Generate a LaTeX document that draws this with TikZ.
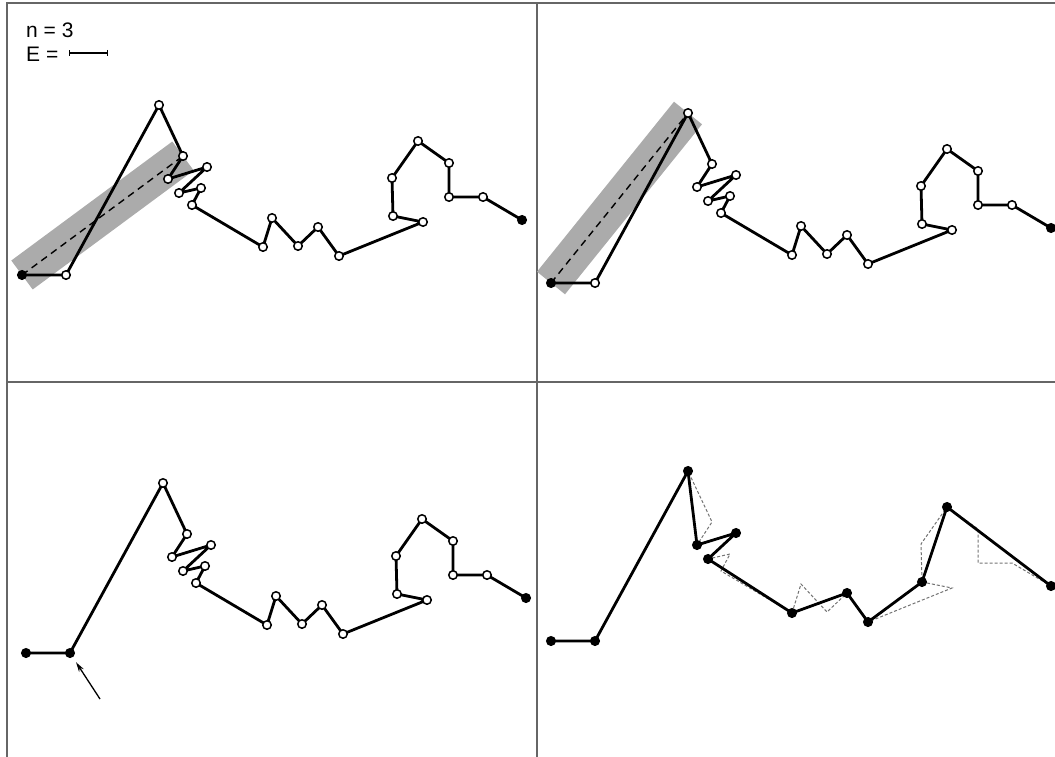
\documentclass[tikz,border=0pt]{standalone}
\usepackage{fontspec}
\setmainfont{Liberation Sans}
\usetikzlibrary{arrows.meta}

\tikzset{
  vtx/.style={draw,circle,fill=white,line width=1.5pt,inner sep=0pt,minimum size=8.5pt},
  endvtx/.style={vtx,fill=black},
  chain/.style={line width=2.8pt,line join=round},
  band/.style={draw=black!33,line width=36pt},
  guide/.style={dashed,dash pattern=on 7pt off 5pt,line width=1.4pt},
  old/.style={draw=black!55,dashed,dash pattern=on 3pt off 2pt,line width=1pt},
  frame/.style={draw=black!60,line width=2.4pt},
  pointer/.style={-{Stealth[length=10pt,width=5.5pt]},line width=1.3pt}
}

% the walk, in the frame of the first panel
\newcommand\walkpts[1]{%
  \foreach \px/\py [count=\k from 0] in {22/275,66/275,159/105,183/156,168/179,207/167,
      179/193,201/188,192/205,263/247,272/218,298/246,318/227,339/256,423/222,
      393/216,392/178,418/141,449/163,449/197,483/197,522/220}
    {\coordinate (#1\k) at (\px,\py);}}

\begin{document}
\begin{tikzpicture}[x=1pt, y=-1pt, font=\fontsize{21}{25}\selectfont]
  \useasboundingbox (0,0) rectangle (1055,757);

  % Frame
  \draw[frame] (7,757) -- (7,3) -- (1055,3);
  \draw[frame] (537,3) -- (537,757);
  \draw[frame] (7,382) -- (1055,382);

  % Legend
  \node[anchor=base west,inner sep=0pt] (ntext) at (26,38) {n = 3};
  \node[anchor=base west,inner sep=0pt] (etext) at (26,62) {E =};
  \coordinate (bar1) at (69,53);
  \coordinate (bar2) at (108,53);
  \draw[{Bar[width=6pt]}-{Bar[width=6pt]},line width=1.3pt] (bar1) -- (bar2);

  % Panel 1
  \begin{scope}
    \walkpts{a}
    \draw[band] (a0) -- (a3);
    \draw[guide] (a0) -- (a3);
    \draw[chain] (a0) \foreach \k in {1,...,21}{ -- (a\k)};
    \foreach \k in {1,...,20} \node[vtx] (va\k) at (a\k) {};
    \node[endvtx] (va0) at (a0) {};
    \node[endvtx] (va21) at (a21) {};
  \end{scope}

  % Panel 2
  \begin{scope}[shift={(529,8)}]
    \walkpts{b}
    \draw[band] (b0) -- (b2);
    \draw[guide] (b0) -- (b2);
    \draw[chain] (b0) \foreach \k in {1,...,21}{ -- (b\k)};
    \foreach \k in {1,...,20} \node[vtx] (vb\k) at (b\k) {};
    \node[endvtx] (vb0) at (b0) {};
    \node[endvtx] (vb21) at (b21) {};
  \end{scope}

  % Panel 3
  \begin{scope}[shift={(4,378)}]
    \walkpts{c}
    \draw[chain] (c0) \foreach \k in {1,...,21}{ -- (c\k)};
    \foreach \k in {2,...,20} \node[vtx] (vc\k) at (c\k) {};
    \node[endvtx] (vc0) at (c0) {};
    \node[endvtx] (vc1) at (c1) {};
    \node[endvtx] (vc21) at (c21) {};
    \coordinate (tail) at (96,321);
    \draw[pointer,shorten >=6pt] (tail) -- (vc1);
  \end{scope}

  % Panel 4
  \begin{scope}[shift={(529,366)}]
    \walkpts{d}
    \draw[old] (d0) \foreach \k in {1,...,21}{ -- (d\k)};
    \draw[chain] (d0) \foreach \k in {1,2,4,5,6,9,12,13,15,17,21}{ -- (d\k)};
    \foreach \k in {0,1,2,4,5,6,9,12,13,15,17,21} \node[endvtx] (vd\k) at (d\k) {};
  \end{scope}
\end{tikzpicture}
\end{document}
